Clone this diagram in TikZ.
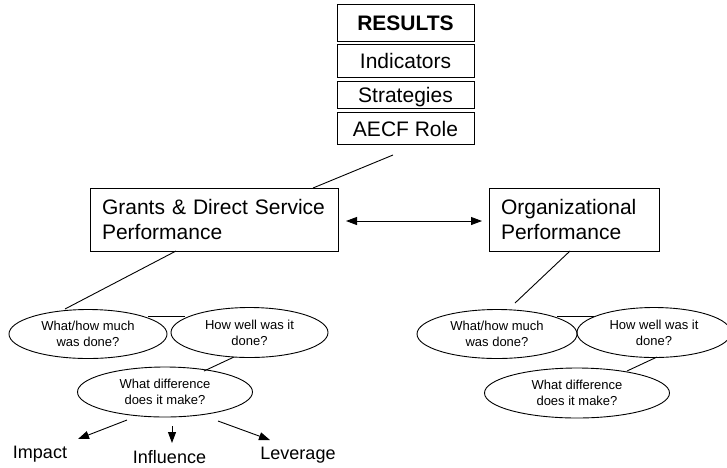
\documentclass[tikz,border=0pt]{standalone}
\usepackage{fontspec}
\setmainfont{Liberation Sans}
\usetikzlibrary{shapes.geometric,arrows.meta}
\tikzset{
  boxstyle/.style={draw, line width=1pt, inner sep=0pt, font=\fontsize{21}{25}\selectfont},
  stackbox/.style={boxstyle, minimum width=137pt, text height=15pt, text depth=0pt},
  perfbox/.style={boxstyle, minimum height=63pt, align=left, inner xsep=12pt},
  qell/.style={draw, ellipse, line width=0.9pt, inner sep=0pt, align=center, font=\fontsize{13}{16}\selectfont},
  conn/.style={line width=0.9pt},
  arr/.style={line width=0.9pt, -{Triangle[length=11pt,width=8pt]}},
  lbl/.style={anchor=base, inner sep=0pt, font=\fontsize{18}{21}\selectfont}
}
\begin{document}
\begin{tikzpicture}[x=1pt,y=-1pt]
\clip (0,0) rectangle (727,467);
\fill[white] (0,0) rectangle (727,467);
% stack
\node[stackbox, minimum height=37pt] (res) at (405.5,22.5) {\textbf{RESULTS}};
\node[stackbox, minimum height=33pt] (ind) at (405.5,60.5) {Indicators};
\node[stackbox, minimum height=27pt] (str) at (405.5,94.7) {Strategies};
\node[stackbox, minimum height=32.3pt] (aecf) at (405.5,128.8) {AECF Role};
% performance boxes
\node[perfbox, text width=224pt] (grants) at (214,219.5) {Grants \& Direct Service\\Performance};
\node[perfbox, text width=146pt] (org) at (574,219.5) {Organizational\\Performance};
% ellipses left
\node[qell, minimum width=158pt, minimum height=49pt] (l1) at (88,334) {What/how much\\was done?};
\node[qell, minimum width=157pt, minimum height=50pt] (l2) at (249.5,332.5) {How well was it\\done?};
\node[qell, minimum width=175pt, minimum height=50pt] (l3) at (165,392) {What difference\\does it make?};
% ellipses right
\node[qell, minimum width=160pt, minimum height=49pt] (r1) at (497,334) {What/how much\\was done?};
\node[qell, minimum width=154pt, minimum height=50pt] (r2) at (654,332.5) {How well was it\\done?};
\node[qell, minimum width=185pt, minimum height=50pt] (r3) at (577,393) {What difference\\does it make?};
% labels
\node[lbl] (impact) at (40,458) {Impact};
\node[lbl] (influence) at (169.5,463.5) {Influence};
\node[lbl] (leverage) at (298,459) {Leverage};
% connector end points
\coordinate (a1) at (393,155);
\coordinate (a2) at (313,188);
\coordinate (g1) at (176,251);
\coordinate (g2) at (65,309);
\coordinate (h1) at (148,316);
\coordinate (h2) at (185,316);
\coordinate (d1) at (234,357);
\coordinate (d2) at (204,371);
\coordinate (o1) at (570,251);
\coordinate (o2) at (515,303);
\coordinate (k1) at (557,316);
\coordinate (k2) at (594,316);
\coordinate (e1) at (657,357);
\coordinate (e2) at (627,371);
\coordinate (m1) at (346,221);
\coordinate (m2) at (482,221);
\coordinate (p1) at (127,420);
\coordinate (p2) at (78,439);
\coordinate (q1) at (172,426);
\coordinate (q2) at (172,443);
\coordinate (s1) at (218,421);
\coordinate (s2) at (270,440);
% connectors
\draw[conn] (a1) -- (a2);
\draw[conn] (g1) -- (g2);
\draw[conn] (h1) -- (h2);
\draw[conn] (d1) -- (d2);
\draw[conn] (o1) -- (o2);
\draw[conn] (k1) -- (k2);
\draw[conn] (e1) -- (e2);
\draw[line width=0.9pt, {Triangle[length=11pt,width=8pt]}-{Triangle[length=11pt,width=8pt]}] (m1) -- (m2);
\draw[arr] (p1) -- (p2);
\draw[arr] (q1) -- (q2);
\draw[arr] (s1) -- (s2);
\end{tikzpicture}
\end{document}
